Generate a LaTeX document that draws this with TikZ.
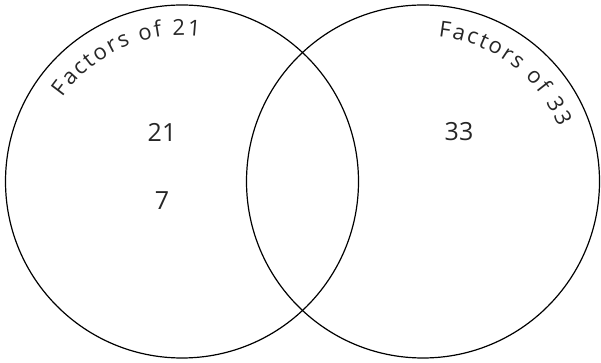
\documentclass[tikz,border=0pt]{standalone}
\usepackage{fontspec}
\setmainfont{Open Sans}
\usetikzlibrary{decorations.text}

\begin{document}
\begin{tikzpicture}[
  x=1pt,y=1pt,
  setC/.style={draw,circle,line width=1.2pt,minimum size=353pt,inner sep=0pt},
  num/.style={font=\fontsize{25}{29}\selectfont,text=black!85,inner sep=0pt},
  arcT/.style={decorate,decoration={text along path,text align=fit to path,
               text color=black!85,
               text format delimiters={|}{|}}}
]
\useasboundingbox (0,0) rectangle (601,363);

%% the two sets
\node[setC] (c21) at (182,181.5) {};
\node[setC] (c33) at (423,181.5) {};

%% set names, bent along the circles
\path[arcT,decoration={text={|\fontsize{22}{26}\selectfont|Factors of 21}}]
  (c21.center) ++(145:146) arc[start angle=145,end angle=83,radius=146];
\path[arcT,decoration={text={|\fontsize{22}{26}\selectfont|Factors of 33}}]
  (c33.center) ++(84:146) arc[start angle=84,end angle=22,radius=146];

%% members
\node[num] (n21) at (162,231) {21};
\node[num] (n7)  at (162,162) {7};
\node[num] (n33) at (459,231) {33};

\end{tikzpicture}
\end{document}
